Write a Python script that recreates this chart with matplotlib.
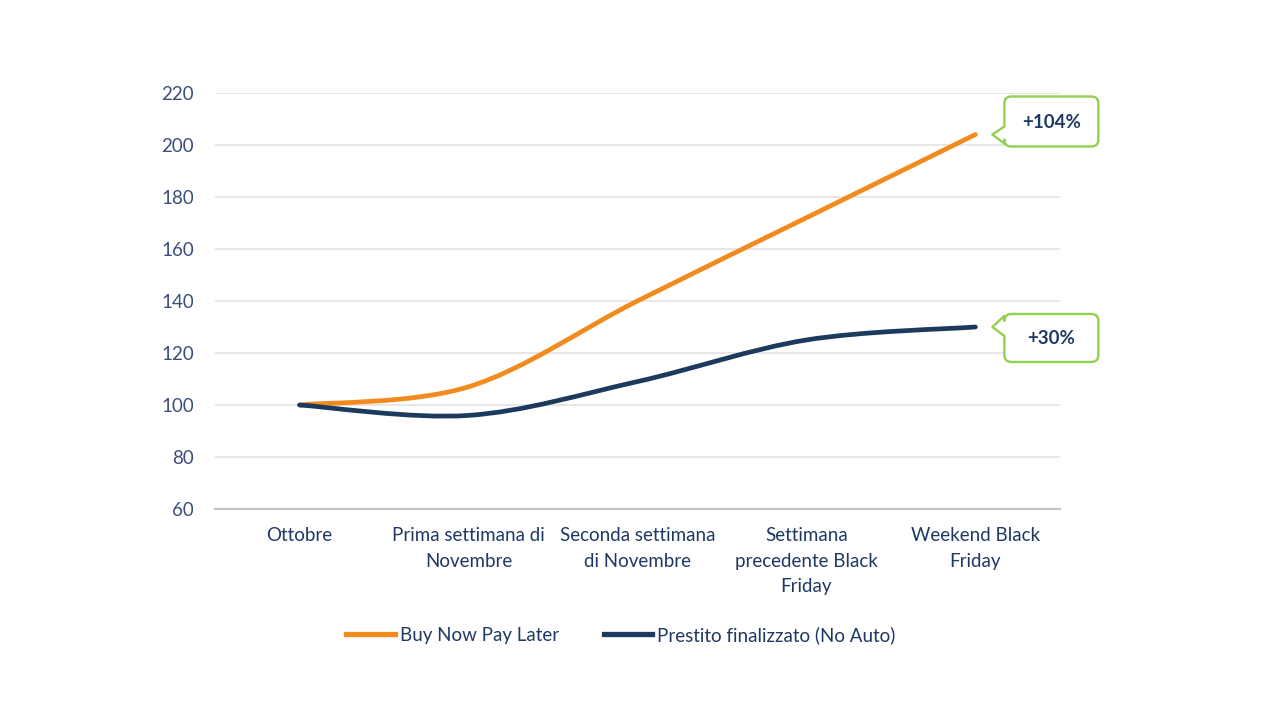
import numpy as np
import matplotlib
matplotlib.use('Agg')
import matplotlib.pyplot as plt
import matplotlib.transforms as mtransforms
from matplotlib.path import Path
from matplotlib.patches import PathPatch
from matplotlib.lines import Line2D

# data
categories = ['Ottobre', 'Prima settimana di\nNovembre', 'Seconda settimana\ndi Novembre',
              'Settimana\nprecedente Black\nFriday', 'Weekend Black\nFriday']
bnpl = [100, 107, 140, 172, 204]
prestito = [100, 96, 109, 125, 130]
series_names = ['Buy Now Pay Later', 'Prestito finalizzato (No Auto)']
callouts = ['+104%', '+30%']
y_ticks = [60, 80, 100, 120, 140, 160, 180, 200, 220]

ORANGE = '#F38A1D'
NAVY = '#1C3A5E'
GREEN = '#92D050'
TEXT = '#1F3864'

plt.rcParams['font.family'] = ['Lato', 'DejaVu Sans']


def smooth_path(xs, ys):
    # excel-like smoothed line: catmull-rom segments as cubic beziers
    pts = np.column_stack([xs, ys]).astype(float)
    ext = np.vstack([pts[0], pts, pts[-1]])
    verts = [pts[0]]
    codes = [Path.MOVETO]
    for i in range(1, len(ext) - 2):
        p0, p1, p2, p3 = ext[i - 1], ext[i], ext[i + 1], ext[i + 2]
        verts += [p1 + (p2 - p0) / 6.0, p2 - (p3 - p1) / 6.0, p2]
        codes += [Path.CURVE4] * 3
    return Path(verts, codes)


def callout_path(left, right, top, bottom, n_top, n_bot, r=7):
    # rounded box with a small pointer on the left side, tip at (0, 0), pixel units
    v = [(left + r, top), (right - r, top), (right, top), (right, top - r),
         (right, bottom + r), (right, bottom), (right - r, bottom),
         (left + r, bottom), (left, bottom), (left, bottom + r),
         (left, n_bot), (0, 0), (left, n_top),
         (left, top - r), (left, top), (left + r, top), (left + r, top)]
    c = [Path.MOVETO, Path.LINETO, Path.CURVE3, Path.CURVE3,
         Path.LINETO, Path.CURVE3, Path.CURVE3,
         Path.LINETO, Path.CURVE3, Path.CURVE3,
         Path.LINETO, Path.LINETO, Path.LINETO,
         Path.LINETO, Path.CURVE3, Path.CURVE3, Path.CLOSEPOLY]
    return Path(v, c)


fig = plt.figure(figsize=(12.8, 7.2), dpi=100)
ax = fig.add_axes([0.168, 0.293, 0.66, 0.578])

x = np.arange(len(categories))
for vals, col in [(bnpl, ORANGE), (prestito, NAVY)]:
    ax.add_patch(PathPatch(smooth_path(x, vals), facecolor='none', edgecolor=col,
                           lw=3.4, capstyle='round', zorder=3))

ax.set_xlim(-0.5, len(categories) - 0.5)
ax.set_ylim(60, 220)
ax.set_yticks(y_ticks)
ax.set_xticks(x)
ax.set_xticklabels(categories, fontsize=13.5, color=TEXT, linespacing=1.62, va='top')
ax.tick_params(axis='x', length=0, pad=13)
ax.tick_params(axis='y', length=0, pad=15, labelsize=13.5, labelcolor='#3B4E7A')
ax.grid(axis='y', color='#E3E3E3', lw=1.2)
ax.set_axisbelow(True)
for s in ['top', 'right', 'left']:
    ax.spines[s].set_visible(False)
ax.spines['bottom'].set_color('#C4C4C4')
ax.spines['bottom'].set_linewidth(1.6)

# callouts next to the last points
shapes = [dict(top=38, bottom=-12, n_top=8, n_bot=-9),
          dict(top=13, bottom=-35, n_top=11, n_bot=-9)]
last = len(categories) - 1
for txt, vals, sh in zip(callouts, [bnpl, prestito], shapes):
    tr = (mtransforms.Affine2D().scale(fig.dpi / 100.0)
          + mtransforms.ScaledTranslation(last, vals[-1], ax.transData)
          + mtransforms.Affine2D().translate(17 * fig.dpi / 100.0, 0))
    p = callout_path(12, 106, sh['top'], sh['bottom'], sh['n_top'], sh['n_bot'])
    ax.add_patch(PathPatch(p, facecolor='white', edgecolor=GREEN, lw=1.7,
                           joinstyle='round', transform=tr, clip_on=False, zorder=4))
    ax.text(59, (sh['top'] + sh['bottom']) / 2.0 - 1, txt, transform=tr, ha='center',
            va='center', fontsize=13.5, fontweight='bold', color=TEXT, zorder=5)

handles = [Line2D([], [], color=ORANGE, lw=3.8), Line2D([], [], color=NAVY, lw=3.8)]
fig.legend(handles, series_names, loc='center', bbox_to_anchor=(0.485, 0.118), ncol=2,
           frameon=False, fontsize=13.5, handlelength=2.6, handletextpad=0.25,
           columnspacing=2.4, labelcolor=TEXT)

fig.savefig('out.png', dpi=100, facecolor='white')
